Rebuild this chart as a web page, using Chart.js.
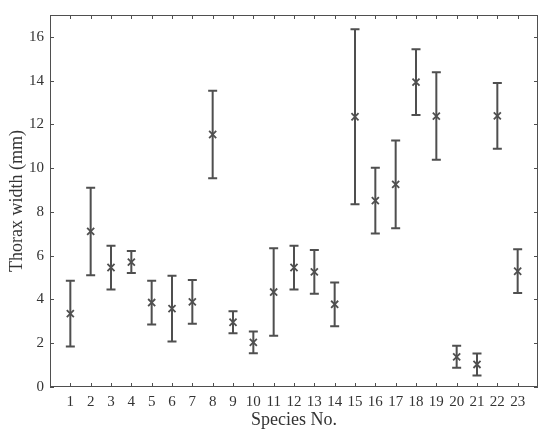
<!DOCTYPE html>
<html>
<head>
<meta charset="utf-8">
<script src="https://cdn.jsdelivr.net/npm/chart.js@4.4.0/dist/chart.umd.min.js"></script>
<style>
  html, body { margin: 0; padding: 0; background: #fff; }
  #wrap { width: 550px; height: 437px; }
</style>
</head>
<body>
<div id="wrap"><canvas id="thorax-chart"></canvas></div>
<script>
// Datos: media y error (+/-) de anchura del tórax por especie
const species = [1, 2, 3, 4, 5, 6, 7, 8, 9, 10, 11, 12, 13, 14, 15, 16, 17, 18, 19, 20, 21, 22, 23];
const means = [3.35, 7.11, 5.46, 5.71, 3.86, 3.58, 3.89, 11.54, 2.96, 2.04, 4.34, 5.46, 5.26, 3.78, 12.35, 8.52, 9.26, 13.93, 12.38, 1.38, 1.03, 12.39, 5.29];
const errors = [1.5, 2.0, 1.0, 0.5, 1.0, 1.5, 1.0, 2.0, 0.5, 0.5, 2.0, 1.0, 1.0, 1.0, 4.0, 1.5, 2.0, 1.5, 2.0, 0.5, 0.5, 1.5, 1.0];
const yTicks = [0, 2, 4, 6, 8, 10, 12, 14, 16];

const INK = '#4f4f4f';
const FONT = "'Liberation Serif', 'DejaVu Serif', serif";

// Barras de error (debajo de los marcadores)
const errorBarPlugin = {
    id: 'errorBars',
    beforeDatasetsDraw(chart) {
        const { ctx, scales: { x, y } } = chart;
        ctx.save();
        ctx.strokeStyle = INK;
        ctx.lineWidth = 2;
        species.forEach((s, i) => {
            const px = x.getPixelForValue(s);
            const top = y.getPixelForValue(means[i] + errors[i]);
            const bot = y.getPixelForValue(means[i] - errors[i]);
            ctx.beginPath();
            ctx.moveTo(px, top); ctx.lineTo(px, bot);
            ctx.moveTo(px - 4.5, top); ctx.lineTo(px + 4.5, top);
            ctx.moveTo(px - 4.5, bot); ctx.lineTo(px + 4.5, bot);
            ctx.stroke();
        });
        ctx.restore();
    }
};

// Marco y ticks hacia dentro en los cuatro lados
const framePlugin = {
    id: 'frame',
    afterDraw(chart) {
        const { ctx, chartArea: a, scales: { x, y } } = chart;
        const len = 4;
        ctx.save();
        ctx.strokeStyle = INK;
        ctx.lineWidth = 1;
        ctx.strokeRect(a.left + 0.5, a.top + 0.5, a.right - a.left - 1, a.bottom - a.top - 1);
        ctx.beginPath();
        species.forEach(s => {
            const px = Math.round(x.getPixelForValue(s)) + 0.5;
            ctx.moveTo(px, a.bottom); ctx.lineTo(px, a.bottom - len);
            ctx.moveTo(px, a.top); ctx.lineTo(px, a.top + len);
        });
        yTicks.forEach(v => {
            const py = Math.round(y.getPixelForValue(v)) + 0.5;
            ctx.moveTo(a.left, py); ctx.lineTo(a.left + len, py);
            ctx.moveTo(a.right, py); ctx.lineTo(a.right - len, py);
        });
        ctx.stroke();
        ctx.restore();
    }
};

const ctx = document.getElementById('thorax-chart').getContext('2d');

new Chart(ctx, {
    type: 'scatter',
    data: {
        datasets: [{
            label: 'Thorax width',
            data: species.map((s, i) => ({ x: s, y: means[i] })),
            pointStyle: 'crossRot',
            pointRadius: 5,
            pointBorderWidth: 1.8,
            pointBorderColor: INK,
            pointBackgroundColor: INK,
            showLine: false
        }]
    },
    options: {
        responsive: true,
        maintainAspectRatio: false,
        animation: false,
        layout: { padding: { top: 11, right: 12, left: 0, bottom: 0 } },
        plugins: {
            legend: { display: false },
            tooltip: { enabled: false }
        },
        scales: {
            x: {
                type: 'linear',
                min: 0,
                max: 24,
                afterBuildTicks: scale => { scale.ticks = species.map(v => ({ value: v })); },
                afterFit: scale => { scale.height = 50; },
                grid: { display: false, drawTicks: false },
                border: { display: false },
                ticks: {
                    autoSkip: false,
                    maxRotation: 0,
                    padding: 6,
                    color: '#333',
                    font: { family: FONT, size: 15 }
                },
                title: {
                    display: true,
                    text: 'Species No.',
                    color: '#333',
                    font: { family: FONT, size: 18 },
                    padding: { top: 0, bottom: 6 }
                }
            },
            y: {
                min: 0,
                max: 17,
                afterBuildTicks: scale => { scale.ticks = yTicks.map(v => ({ value: v })); },
                afterFit: scale => { scale.width = 50; },
                grid: { display: false, drawTicks: false },
                border: { display: false },
                ticks: {
                    padding: 6,
                    color: '#333',
                    font: { family: FONT, size: 15 }
                },
                title: {
                    display: true,
                    text: 'Thorax width (mm)',
                    color: '#333',
                    font: { family: FONT, size: 18 },
                    padding: { top: 6, bottom: 0 }
                }
            }
        }
    },
    plugins: [errorBarPlugin, framePlugin]
});
</script>
</body>
</html>
